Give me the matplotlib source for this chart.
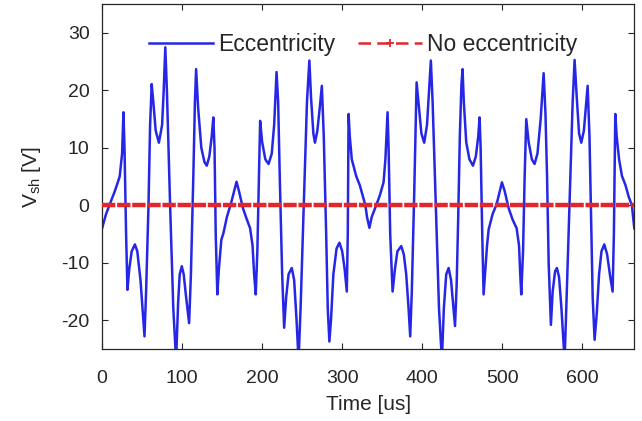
import numpy as np
import matplotlib.pyplot as plt
from matplotlib.lines import Line2D

plt.rcParams['font.family'] = ['Liberation Sans', 'DejaVu Sans']
plt.rcParams['axes.unicode_minus'] = False

# Shaft voltage with eccentricity
t_us = [0, 5, 10, 16, 22, 25, 26.7, 28, 30, 31.7, 34, 37, 41, 44, 48, 51, 53, 55, 58, 60,
        62, 64, 67, 71, 75, 77, 79, 81, 85, 89, 92.5, 95, 97, 99.6, 102, 105, 108.75, 111, 114, 116,
        117.5, 120, 124, 128, 130.8, 134, 137, 139, 140.5, 142, 144, 146, 149, 151.7, 156, 161, 165, 168, 171, 176,
        181, 185, 188, 190, 192, 194, 196, 197.5, 200, 204, 208, 212, 215, 218, 220, 222, 225, 227.5, 230, 233,
        237, 240, 243, 245.5, 248, 252, 256, 259, 261, 264, 266, 269, 272, 274.6, 277, 280, 282, 284, 286, 289,
        293, 296.6, 300, 303, 305.8, 307, 308, 309.5, 312, 317.5, 322, 326, 329, 331, 334, 337, 342.5, 347, 351.7, 354,
        356.7, 358, 360, 363, 366, 369, 373.75, 377, 380, 383, 385, 387, 390, 392, 393, 396, 399, 402.5, 406, 409,
        410.8, 413, 417, 421, 424.6, 427, 430, 433, 436, 438.5, 441, 443, 445, 447, 449, 450.4, 452, 455, 459, 463.4,
        467, 470, 471.7, 473, 475, 476.7, 479, 481, 483, 488, 493, 497, 499.6, 503, 508, 513, 518, 521, 522.5, 523.75,
        526, 528, 530, 533, 537, 540.4, 544, 548, 551.7, 554, 556, 558, 560.8, 563, 566, 568.3, 571, 574, 577.9, 580,
        584, 588, 590.4, 593, 596, 598.75, 602, 605, 606.7, 609, 611, 613, 615.4, 618, 621, 624, 627.5, 631, 635, 637.9,
        639.5, 641.25, 643, 646, 649.6, 654, 658, 662, 665]
v_ecc = [-4.0, -1.5, 0.3, 2.5, 5.0, 9, 16.2, 10, -5, -14.7, -11, -8, -6.8, -8, -13, -19, -22.8, -15, 0, 14,
         21.1, 18, 13, 10.9, 14, 20, 27.5, 20, 0, -18, -27, -17, -12, -10.6, -12, -16, -20.5, -12, 5, 18,
         23.7, 17, 10, 7.5, 6.9, 8.5, 12, 15.3, 10, -5, -15.5, -11, -6, -4.8, -2, 0.3, 2.5, 4.1, 2.5, -0.5,
         -2.5, -4, -7, -12, -15.5, -8, 5, 14.7, 11, 8, 7.2, 9, 14, 23.2, 18, 5, -12, -21.3, -16, -12,
         -10.9, -13, -20, -27, -18, 0, 18, 25.2, 19, 12.5, 10.9, 13, 17, 20.8, 12, -5, -18, -23.7, -20, -12,
         -7.5, -6.5, -8, -11, -15, -5, 15.9, 12, 8, 5.1, 3.5, 1.5, 0, -2, -3.9, -2, 0, 1.7, 4, 8,
         16.2, 10, -5, -15, -11, -8, -7.1, -8.5, -12, -18, -22.8, -15, 2, 15, 21.4, 17, 12.5, 10.9, 14, 21,
         25.2, 18, 0, -18, -27, -18, -12, -10.9, -13, -17, -21, -14, -2, 12, 21, 23.7, 18, 11, 8, 6.9,
         8.5, 12, 15.3, 10, -5, -15.5, -11, -7, -4.2, -1.5, 0.2, 2.5, 4, 2.5, -0.5, -2.5, -4, -7, -12, -15.5,
         -8, 5, 15, 11, 8, 7.2, 9, 15, 23, 16, 5, -10, -20.8, -15, -11.5, -10.9, -12.5, -18, -27, -18,
         0, 18, 25.3, 19, 12.5, 10.9, 13, 18, 20.8, 12, -2, -16, -23.4, -19, -12, -8, -6.8, -8.5, -12.5, -15,
         -5, 15.9, 12, 8, 5.1, 3.5, 1.5, 0, -4]

# Without eccentricity the shaft voltage stays at zero
t_no = [0, 665]
v_no = [0.0, 0.0]

x_ticks = [0, 100, 200, 300, 400, 500, 600]
y_ticks = [-20, -10, 0, 10, 20, 30]

blue = '#2626e6'
red = '#e3262a'

fig = plt.figure(figsize=(6.42, 4.21), dpi=100)
ax = fig.add_axes([0.159, 0.171, 0.829, 0.819])

ax.plot(t_us, v_ecc, color=blue, lw=1.8, zorder=2)
# densely dashed + markers in the original, which reads as a thick band
ax.plot(t_no, v_no, color=red, lw=3.2, ls='--', dashes=(3, 0.4), zorder=3)

ax.set_xlim(0, 665)
ax.set_ylim(-25, 35)
ax.set_xticks(x_ticks)
ax.set_yticks(y_ticks)
ax.tick_params(direction='in', top=True, right=True, labelsize=14,
               colors='#262626', length=4)
ax.tick_params(axis='x', pad=15)
ax.tick_params(axis='y', pad=9)
for s in ax.spines.values():
    s.set_color('#262626')
    s.set_linewidth(0.9)

ax.set_xlabel('Time [us]', fontsize=15, color='#262626', labelpad=6)
ax.set_ylabel(r'$\mathregular{V_{sh}}$ [V]', fontsize=15, color='#262626', labelpad=13)

handles = [Line2D([], [], color=blue, lw=1.8),
           Line2D([], [], color=red, lw=1.8, ls='--', dashes=(5, 2.5),
                  marker='+', ms=6, mew=1.3)]
ax.legend(handles, ['Eccentricity', 'No eccentricity'], loc='upper center',
          ncol=2, frameon=False, fontsize=16.5, handlelength=2.8,
          columnspacing=1.0, handletextpad=0.2,
          bbox_to_anchor=(0.49, 0.975), labelcolor='#262626')

fig.savefig('out.png', dpi=100)
